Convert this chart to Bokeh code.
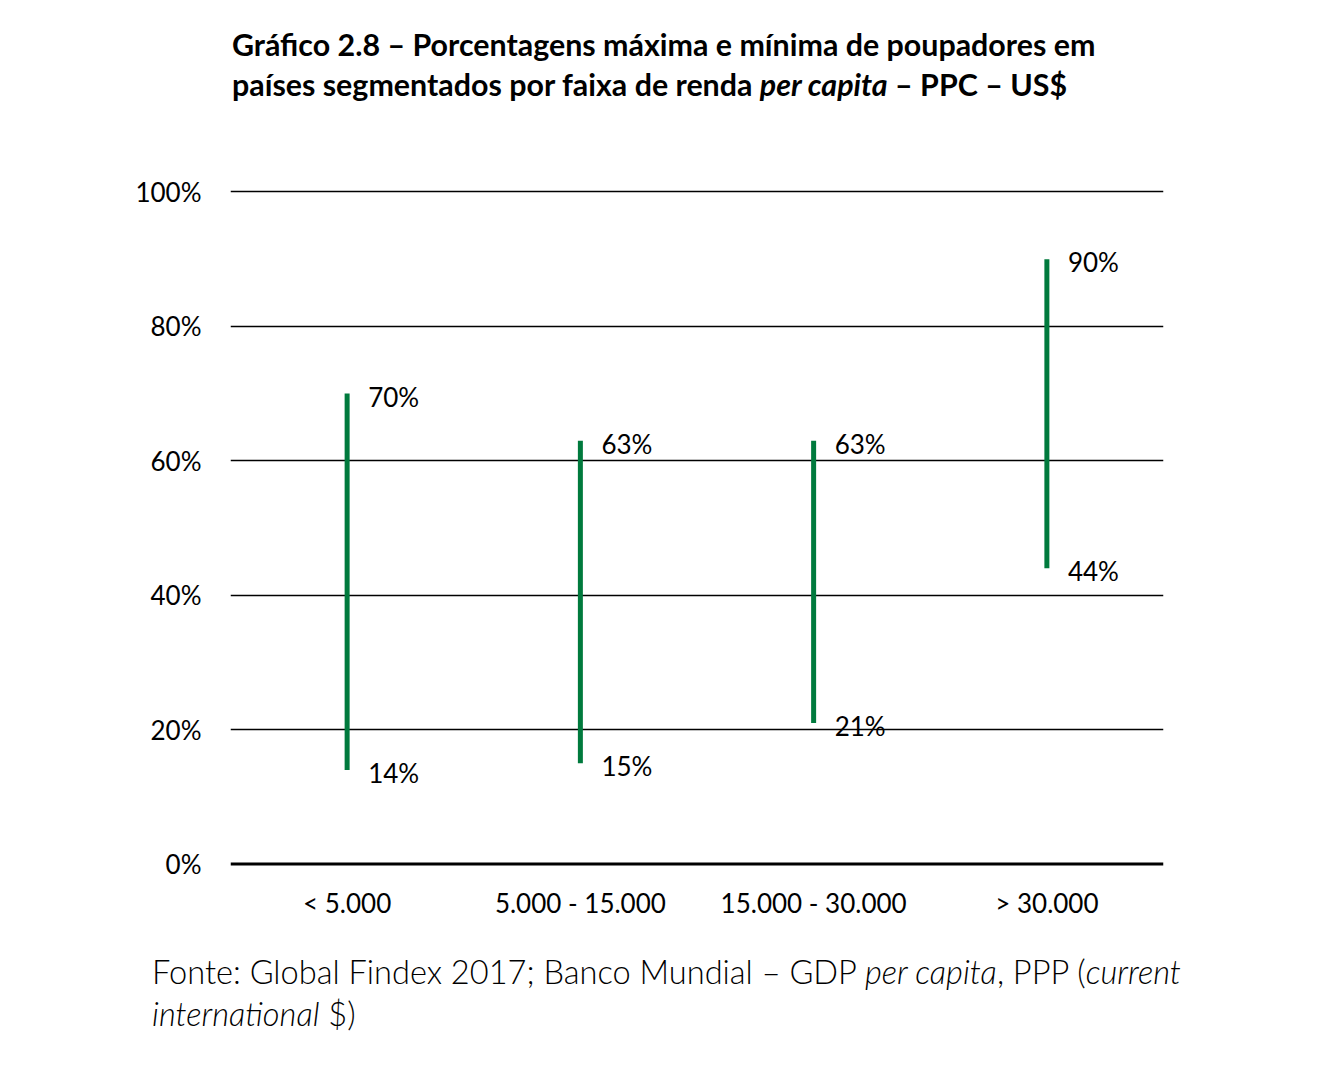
from bokeh.plotting import figure
from bokeh.models import (ColumnDataSource, FactorRange, Range1d, FixedTicker,
                          Span, Div)
from bokeh.layouts import column
from bokeh.core.properties import value
from bokeh.embed import file_html
from bokeh.resources import INLINE

categories = ["< 5.000", "5.000 - 15.000", "15.000 - 30.000", "> 30.000"]
max_vals = [70, 63, 63, 90]
min_vals = [14, 15, 21, 44]
y_ticks = [0, 20, 40, 60, 80, 100]
y_tick_labels = ["0%", "20%", "40%", "60%", "80%", "100%"]

GREEN = "#007a3d"
FONT = "Lato"

title_html = (
    '<div style="font-family:Lato,sans-serif;font-weight:bold;font-size:30.4px;'
    'line-height:40px;padding-left:227px;padding-top:19px;color:#000;white-space:nowrap;">'
    'Gráfico 2.8 – Porcentagens máxima e mínima de poupadores em<br>'
    'países segmentados por faixa de renda <i>per capita</i> – PPC – US$</div>'
)
title_div = Div(text=title_html, width=1304, height=120)

src = ColumnDataSource(dict(
    cat=categories,
    lo=min_vals,
    hi=max_vals,
    lo_txt=[f"{v}%" for v in min_vals],
    hi_txt=[f"{v}%" for v in max_vals],
))

p = figure(x_range=FactorRange(*categories, range_padding=0),
           y_range=Range1d(-2, 102),
           frame_width=933, frame_height=699,
           min_border_left=230, min_border_right=141,
           min_border_top=48, min_border_bottom=62,
           output_backend="svg", toolbar_location=None)
p.outline_line_color = None
p.background_fill_color = "white"

p.xgrid.grid_line_color = None
p.ygrid.ticker = FixedTicker(ticks=[20, 40, 60, 80, 100])
p.ygrid.grid_line_color = "black"
p.ygrid.grid_line_width = 1.5

p.yaxis.ticker = FixedTicker(ticks=y_ticks)
p.yaxis.major_label_overrides = {t: l for t, l in zip(y_ticks, y_tick_labels)}
p.yaxis.axis_line_color = None
p.yaxis.major_tick_line_color = None
p.yaxis.minor_tick_line_color = None
p.yaxis.major_tick_out = 0
p.yaxis.major_label_standoff = 29
p.yaxis.major_label_text_font = FONT
p.yaxis.major_label_text_font_size = "26px"
p.yaxis.major_label_text_color = "black"

p.xaxis.axis_line_color = None
p.xaxis.major_tick_line_color = None
p.xaxis.minor_tick_line_color = None
p.xaxis.major_tick_out = 0
p.xaxis.major_label_standoff = 9
p.xaxis.major_label_text_font = FONT
p.xaxis.major_label_text_font_size = "26px"
p.xaxis.major_label_text_color = "black"

p.add_layout(Span(location=0, dimension="width", line_color="black", line_width=3))

p.segment(x0="cat", y0="lo", x1="cat", y1="hi", source=src,
          line_color=GREEN, line_width=5, line_cap="butt")

p.text(x="cat", y="hi", text="hi_txt", source=src, x_offset=21, y_offset=3,
       text_font=value(FONT), text_font_size="26px", text_color="black",
       text_baseline="middle", text_align="left")
p.text(x="cat", y="lo", text="lo_txt", source=src, x_offset=21, y_offset=3,
       text_font=value(FONT), text_font_size="26px", text_color="black",
       text_baseline="middle", text_align="left")

footer_html = (
    '<div style="font-family:Lato,sans-serif;font-weight:300;font-size:32.6px;'
    'line-height:42px;padding-left:147px;padding-top:7px;color:#000;white-space:nowrap;">'
    'Fonte: Global Findex 2017; Banco Mundial – GDP <i>per capita</i>, PPP (<i>current</i><br>'
    '<i>international</i> $)</div>'
)
footer_div = Div(text=footer_html, width=1304, height=100)

layout = column(title_div, p, footer_div, spacing=0)

open("out.html", "w").write(file_html(layout, INLINE))
